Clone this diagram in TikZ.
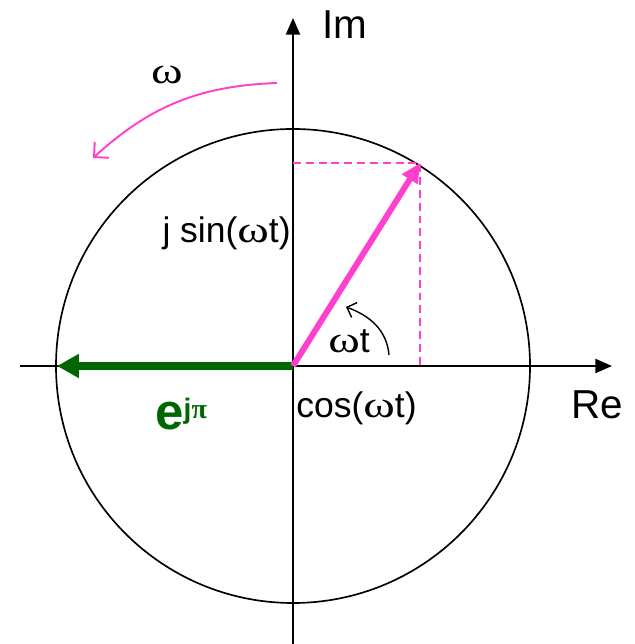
\documentclass[tikz,border=0pt]{standalone}
\usepackage{graphicx}
\usepackage{fontspec}
\setmainfont{Liberation Sans}
\newfontfamily\greekfont{Liberation Serif}
\newcommand\om{{\greekfont\scalebox{1.35}[1.05]{ω}}}
\usetikzlibrary{arrows.meta}
\definecolor{PhasorPink}{HTML}{FF40CC}
\definecolor{PhasorGreen}{HTML}{006600}

\begin{document}
\begin{tikzpicture}[
  x=0.02cm, y=0.02cm,
  every node/.style={inner sep=0pt, font=\fontsize{20.2}{24}\selectfont},
  axislabel/.style={font=\fontsize{23}{26}\selectfont},
  axis/.style={line width=1.2pt, -{Triangle[length=9.5pt,width=8pt]}},
  rim/.style={line width=0.95pt},
  guide/.style={draw=PhasorPink, line width=0.8pt, dash pattern=on 4.5pt off 2.8pt},
  phasor/.style={line width=3.4pt, color=PhasorPink, -{Triangle[length=11pt,width=10pt]}},
  flip/.style={line width=4.5pt, color=PhasorGreen, -{Triangle[length=12.5pt,width=13pt]}},
  spin/.style={line width=1.1pt, -{Straight Barb[length=6pt,width=12pt]}}
]
\useasboundingbox (0,0) rectangle (634,644);

\coordinate (O) at (293,278);
\coordinate (reL) at (20,278);
\coordinate (reR) at (612,278);
\coordinate (imB) at (293,0);
\coordinate (imT) at (293,626);
\coordinate (tip) at (420,481);
\coordinate (tipRe) at (420,278);
\coordinate (tipIm) at (293,481);
\coordinate (flipTip) at (57,278);
\coordinate (spinA) at (277,561);
\coordinate (spinB) at (93,486);
\coordinate (angA) at (389,289);
\coordinate (angB) at (346,337);

\draw[rim] (O) circle[radius=237];
\draw[axis] (reL) -- (reR);
\draw[axis] (imB) -- (imT);
\draw[guide] (tipIm) -- (tip) -- (tipRe);
\draw[flip] (O) -- (flipTip);
\draw[phasor] (O) -- (tip);
\draw[spin, PhasorPink] (spinA) to[bend right=20] (spinB);
\draw[spin, line width=0.8pt, -{Straight Barb[length=4.5pt,width=9pt]}] (angA) to[out=95,in=-20] (angB);

\node (omega) at (167,569) {\om};
\node[axislabel] (Im) at (345,619) {Im};
\node[axislabel] (Re) at (597,239) {Re};
\node[anchor=east] (sinlbl) at (291,411) {j sin(\om t)};
\node (anglbl) at (349,303) {\om t};
\node[anchor=west] (coslbl) at (296,236) {cos(\om t)};
\node[anchor=base west, text=PhasorGreen, font=\fontsize{29}{32}\selectfont\bfseries] (flipLbl) at (155,214)
  {e\raisebox{6.8pt}{\fontsize{16}{18}\selectfont j{\greekfont π}}};
\end{tikzpicture}
\end{document}
